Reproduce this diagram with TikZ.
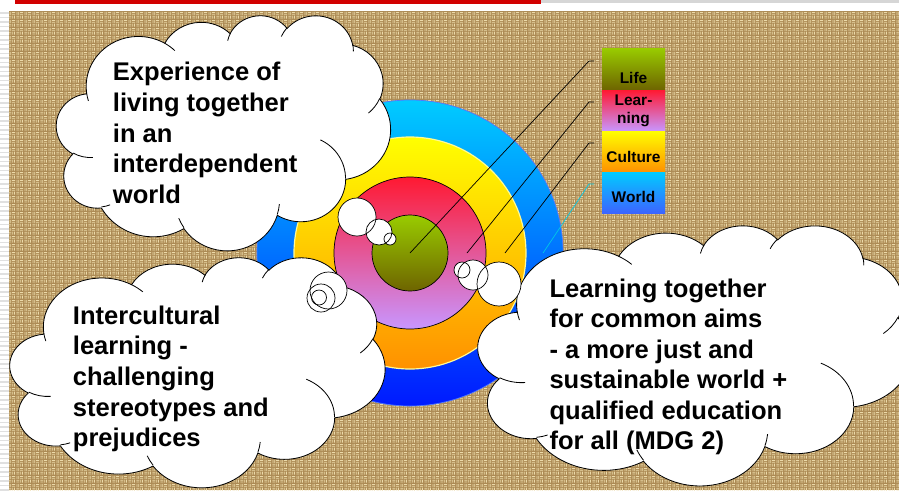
\documentclass[tikz,border=0pt]{standalone}
\usepackage{fontspec}
\setmainfont{Liberation Sans}
\usetikzlibrary{patterns}

% colours
\definecolor{burlap}{RGB}{172,138,84}
\definecolor{burlapthread}{RGB}{236,218,170}
\definecolor{stripe}{RGB}{224,224,224}
\definecolor{topline}{RGB}{214,214,214}
\definecolor{titlered}{RGB}{210,0,0}
\definecolor{blueTop}{RGB}{0,204,255}
\definecolor{blueBot}{RGB}{0,25,255}
\definecolor{blueEdge}{RGB}{80,120,255}
\definecolor{yelTop}{RGB}{255,255,0}
\definecolor{yelBot}{RGB}{255,145,0}
\definecolor{yelEdge}{RGB}{255,250,150}
\definecolor{pinkTop}{RGB}{255,25,50}
\definecolor{pinkMid}{RGB}{228,105,170}
\definecolor{pinkBot}{RGB}{200,150,255}
\definecolor{greenTop}{RGB}{153,204,0}
\definecolor{greenBot}{RGB}{110,100,0}
\definecolor{worldBot}{RGB}{60,100,255}
\definecolor{leadcyan}{RGB}{0,200,230}

% basket-weave texture of the burlap ground
\pgfdeclarepatternformonly{weave}{\pgfpointorigin}{\pgfqpoint{7pt}{7pt}}{\pgfqpoint{7pt}{7pt}}{%
  \pgfsetlinewidth{0.75pt}%
  \pgfpathmoveto{\pgfqpoint{0.3pt}{0.9pt}}\pgfpathlineto{\pgfqpoint{3.2pt}{0.9pt}}%
  \pgfpathmoveto{\pgfqpoint{0.3pt}{2.6pt}}\pgfpathlineto{\pgfqpoint{3.2pt}{2.6pt}}%
  \pgfpathmoveto{\pgfqpoint{3.8pt}{4.4pt}}\pgfpathlineto{\pgfqpoint{6.7pt}{4.4pt}}%
  \pgfpathmoveto{\pgfqpoint{3.8pt}{6.1pt}}\pgfpathlineto{\pgfqpoint{6.7pt}{6.1pt}}%
  \pgfpathmoveto{\pgfqpoint{4.4pt}{0.3pt}}\pgfpathlineto{\pgfqpoint{4.4pt}{3.2pt}}%
  \pgfpathmoveto{\pgfqpoint{6.1pt}{0.3pt}}\pgfpathlineto{\pgfqpoint{6.1pt}{3.2pt}}%
  \pgfpathmoveto{\pgfqpoint{0.9pt}{3.8pt}}\pgfpathlineto{\pgfqpoint{0.9pt}{6.7pt}}%
  \pgfpathmoveto{\pgfqpoint{2.6pt}{3.8pt}}\pgfpathlineto{\pgfqpoint{2.6pt}{6.7pt}}%
  \pgfusepath{stroke}}

% elliptical arc given by radii, visual start angle and sweep (degrees)
\tikzset{declare function={pa(\aa,\ww,\hh)=atan2(\ww*sin(\aa),\hh*cos(\aa));}}
\newcommand\oarc[4]{arc[x radius=#1, y radius=#2, start angle={pa(#3,#1,#2)},
  delta angle={mod(pa(#3+#4,#1,#2)-pa(#3,#1,#2)+720,360)}]}

% cloud outline inside the box (#1,#2) of width #3 and height #4 (pixels)
\newcommand\puffcloud[4]{%
  \begin{scope}[shift={(#1,#2)}, x=1cm, y=1cm,
                xscale=0.03*#3/43.2, yscale=-0.03*#4/43.2]
    \path[cloudline, fill=white] (3.9,14.37)
      \oarc{6.753}{9.19}{-190.4875}{123.7805}
      \oarc{5.333}{7.267}{-144.1024}{89.9452}
      \oarc{4.365}{5.945}{-145.8079}{99.7230}
      \oarc{4.857}{6.595}{-130.9861}{117.2417}
      \oarc{5.333}{7.273}{-78.7089}{109.0269}
      \oarc{6.775}{9.22}{-46.2673}{130.2690}
      \oarc{5.785}{7.867}{0.6250}{114.0333}
      \oarc{6.752}{9.215}{22.4516}{115.1726}
      \oarc{7.72}{10.543}{66.2426}{75.7110}
      \oarc{4.36}{5.918}{-274.9421}{146.7356}
      \oarc{4.345}{5.945}{-246.8285}{152.5189}
      -- cycle;
    \path[cloudline]
      (4.693,26.177) \oarc{4.345}{5.945}{86.742}{26.4295}
      (6.928,34.899) \oarc{4.36}{5.918}{73.6105}{11.4475}
      (16.478,39.09) \oarc{6.752}{9.215}{137.6242}{14.0811}
      (28.827,34.751) \oarc{6.752}{9.215}{6.4533}{15.9984}
      (34.129,22.954) \oarc{5.785}{7.867}{-70.2924}{70.9174}
      (41.798,15.354) \oarc{5.333}{7.273}{30.318}{27.7515}
      (38.324,5.426) \oarc{4.857}{6.595}{-13.7443}{14.8589}
      (29.078,3.952) \oarc{4.857}{6.595}{-149.1815}{18.1954}
      (22.141,4.72) \oarc{4.365}{5.945}{-163.4943}{17.6864}
      (14.0,5.192) \oarc{6.753}{9.19}{-66.707}{12.3194}
      (4.127,15.789) \oarc{6.753}{9.19}{157.6544}{11.8582};
  \end{scope}}

\begin{document}
\begin{tikzpicture}[x=0.03cm, y=-0.03cm,
  cloudline/.style={draw=black, line width=0.7pt},
  leader/.style={draw=black, line width=0.6pt},
  bubble/.style={draw=black, line width=0.6pt},
  cloudtext/.style={anchor=base west, inner sep=0pt,
    font=\fontsize{21.8}{26}\selectfont\bfseries},
  legtext/.style={anchor=base, inner sep=0pt,
    font=\fontsize{13.2}{15}\selectfont\bfseries}]

% page
\useasboundingbox (0,0) rectangle (899,490);
\fill[white] (0,0) rectangle (899,490);
\foreach \yy in {13,17.5,...,490} \draw[stripe, line width=1.4pt] (0,\yy) -- (9,\yy);
\fill[topline] (15,0) rectangle (899,3);
\fill[titlered] (15,0) rectangle (541,3.5);

% burlap ground
\fill[burlap] (9,11) rectangle (899,490);
\fill[pattern=weave, pattern color=burlapthread] (9,11) rectangle (899,490);

% concentric rings
\coordinate (centre) at (410,253);
\shade[top color=blueTop, bottom color=blueBot] (centre) circle[radius=153];
\draw[blueEdge, line width=0.6pt] (centre) circle[radius=153];
\shade[top color=yelTop, bottom color=yelBot] (centre) circle[radius=116];
\draw[yelEdge, line width=1pt] (centre) circle[radius=116];
\shade[top color=pinkTop, middle color=pinkMid, bottom color=pinkBot] (centre) circle[radius=76];
\draw[black, line width=0.6pt] (centre) circle[radius=76];
\shade[top color=greenTop, bottom color=greenBot] (centre) circle[radius=38];
\draw[black, line width=0.6pt] (centre) circle[radius=38];

% legend
\shade[top color=greenTop, bottom color=greenBot] (602,48) rectangle (665,90);
\shade[top color=pinkTop, middle color=pinkMid, bottom color=pinkBot] (602,90) rectangle (665,131);
\shade[top color=yelTop, bottom color=yelBot] (602,131) rectangle (665,172);
\shade[top color=blueTop, bottom color=worldBot] (602,172) rectangle (665,213);
\node[legtext] (lifeLabel) at (633.5,83) {Life};
\node[legtext] (learnLabelA) at (633.5,105) {Lear-};
\node[legtext] (learnLabelB) at (633.5,123) {ning};
\node[legtext] (cultureLabel) at (633.5,162) {Culture};
\node[legtext] (worldLabel) at (633.5,202.5) {World};

% leader lines from the legend to the rings
\coordinate (lifeTick) at (594,61);     \coordinate (lifeRing) at (410,253);
\coordinate (learnTick) at (594,102);   \coordinate (learnRing) at (467,253);
\coordinate (cultureTick) at (594,143); \coordinate (cultureRing) at (505,253);
\coordinate (worldTick) at (594,184);   \coordinate (worldRing) at (543,253);
\draw[leader] (lifeTick) -- ++(-5,0) -- (lifeRing);
\draw[leader] (learnTick) -- ++(-5,0) -- (learnRing);
\draw[leader] (cultureTick) -- ++(-5,0) -- (cultureRing);
\draw[leader, draw=leadcyan] (worldTick) -- ++(-5,0) -- (worldRing);

% thought clouds
\puffcloud{56.5}{15}{334}{235}
\puffcloud{10}{257}{375}{230}
\puffcloud{478}{225}{434}{260}

% thought bubbles
\foreach \bx/\by/\br in {357/217/19, 379/232/13, 390/239/6,
                         499/284/22, 473/275/15, 462/270/8,
                         328.5/290.5/18.5, 321/298/14, 319/297.5/7.5}
  \fill[white] (\bx,\by) circle[radius=\br];
\foreach \bx/\by/\br in {357/217/19, 379/232/13, 390/239/6,
                         499/284/22, 473/275/15, 462/270/8,
                         328.5/290.5/18.5, 321/298/14, 319/297.5/7.5}
  \draw[bubble] (\bx,\by) circle[radius=\br];

% cloud texts
\foreach \txt [count=\i] in {Experience of, living together, in an, interdependent, world}
  \node[cloudtext] (experience\i) at (112.7,{80.7+(\i-1)*30.65}) {\txt};
\foreach \txt [count=\i] in {Intercultural, learning -, challenging, stereotypes and, prejudices}
  \node[cloudtext] (intercultural\i) at (72.7,{324+(\i-1)*30.7}) {\txt};
\foreach \txt [count=\i] in {Learning together, for common aims, - a more just and,
    sustainable world +, qualified education, for all (MDG 2)}
  \node[cloudtext] (together\i) at (549.3,{297.3+(\i-1)*30.5}) {\txt};
\end{tikzpicture}
\end{document}
